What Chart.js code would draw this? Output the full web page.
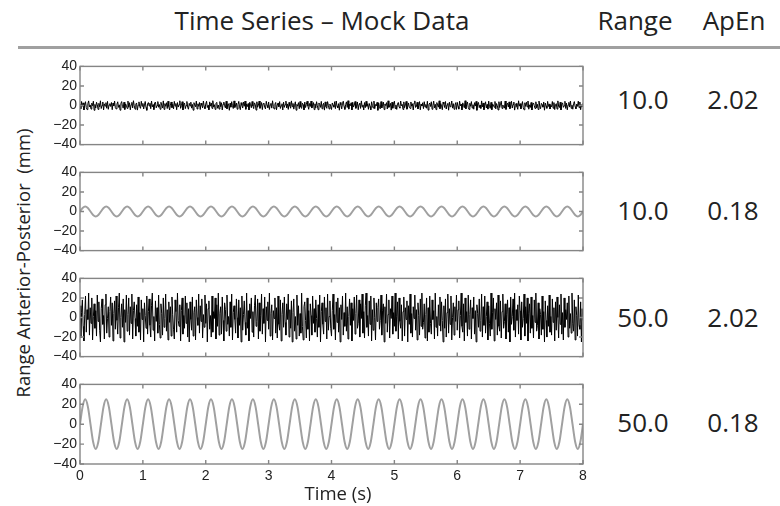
<!DOCTYPE html>
<html>
<head>
<meta charset="utf-8">
<script src="https://cdn.jsdelivr.net/npm/chart.js@4.4.1/dist/chart.umd.min.js"></script>
<style>
  body { margin: 0; width: 780px; height: 506px; background: #fff; position: relative; overflow: hidden; font-family: "Open Sans", sans-serif; color: #222; }
  .txt { position: absolute; font-size: 26px; line-height: 26px; white-space: pre; transform: translateX(-50%); }
  .rule { position: absolute; left: 18px; right: 0; top: 46px; height: 0; border-top: 3px solid #a0a0a0; }
  .ylabel { position: absolute; left: 22px; top: 263px; font-size: 18.5px; white-space: pre; transform: translate(-50%, -50%) rotate(-90deg); }
  .xlabel { position: absolute; left: 338px; top: 484px; font-size: 18.5px; line-height: 18.5px; white-space: pre; transform: translateX(-50%); }
  canvas { position: absolute; left: 0; }
</style>
</head>
<body>
<div class="txt" style="left:322px; top:7px">Time Series – Mock Data</div>
<div class="txt" style="left:635px; top:7px">Range</div>
<div class="txt" style="left:734px; top:7px">ApEn</div>
<div class="rule"></div>
<div class="ylabel">Range Anterior-Posterior  (mm)</div>
<div id="panels"></div>
<div class="xlabel">Time (s)</div>

<script>
// values shown in the right hand columns
const rangeValues = ['10.0', '10.0', '50.0', '50.0']
const apenValues = ['2.02', '0.18', '2.02', '0.18']

// axis ticks
const xTicks = [0, 1, 2, 3, 4, 5, 6, 7, 8]
const yTicks = [-40, -20, 0, 20, 40]

// samples per second for each kind of trace
const noiseRate = 80
const sineRate = 24

// panel 1: small noise (range 10)
const noiseSmall = [
  1.2,-3.4,4.1,-0.8,2.7,-4.6,0.3,3.9,-2.1,-4.2,1.8,4.7,-1.5,0.6,-3.7,2.4,-0.2,4.4,-4.9,1.1,
  -2.6,3.3,0.9,-4.0,2.2,-1.3,4.8,-3.1,0.1,3.6,-4.5,1.7,-0.6,2.9,-2.8,4.2,-3.9,0.5,1.9,-1.0,
  3.1,-4.3,2.5,-0.4,4.6,-2.3,-3.5,1.4,3.8,-1.9,0.7,-4.8,2.0,4.0,-0.9,-2.7,3.4,-4.1,1.6,0.2,
  -3.0,4.5,-1.7,2.8,-4.4,0.8,3.2,-2.5,4.9,-0.3,-3.8,1.3,2.6,-4.7,0.4,3.7,-1.2,-2.9,4.3,-0.7,
  2.1,-3.6,0.6,4.1,-2.0,-4.9,1.5,3.0,-0.5,2.3,-3.3,4.6,-1.4,0.9,-4.2,2.7,3.5,-2.4,-0.1,4.0,
  -1.8,1.0,-3.9,3.3,0.4,-2.6,4.7,-4.0,1.9,-0.8,2.8,-3.1,4.4,-1.1,-4.6,0.3,3.6,-2.2,1.2,-3.5,
  4.2,-0.6,2.0,-4.3,3.0,-1.6,0.8,4.8,-2.9,-0.2,3.9,-4.5,1.4,2.5,-3.2,0.0,4.1,-1.9,-3.8,2.2,
  -0.4,3.4,-2.7,1.1,-4.8,2.9,0.6,-1.3,4.5,-3.6,1.7,-0.9,3.1,-4.1,2.4,0.3,-2.5,4.6,-1.0,-3.3,
  1.5,4.3,-2.1,0.2,-4.4,3.7,-0.7,2.6,-3.0,4.9,-1.5,0.8,-4.0,2.1,3.2,-2.8,0.5,-3.7,4.0,-1.2,
  2.8,-4.6,1.3,3.5,-0.3,-2.4,4.4,-3.4,0.9,1.8,-4.9,2.3,-1.7,3.9,-0.1,-3.1,4.7,-2.0,0.6,2.5,
  -3.8,1.0,4.2,-1.4,-4.3,2.9,0.2,-2.6,3.6,-0.8,4.5,-3.9,1.6,-1.1,2.0,-4.5,3.3,0.7,-2.3,4.1,
  -0.5,-3.2,2.7,1.2,-4.7,3.8,-1.8,0.4,4.6,-2.9,-0.6,3.0,-4.2,1.9,2.4,-1.6,-3.5,4.3,0.1,-2.2,
  3.6,-4.1,0.7,2.2,-2.7,4.8,-0.9,-3.6,1.4,3.1,-4.4,0.5,2.6,-1.3,4.0,-3.0,-0.2,1.8,-4.6,3.4,
  -1.9,0.9,4.5,-2.5,1.6,-4.0,3.2,-0.4,-2.8,4.7,-1.2,2.1,-3.7,0.3,3.8,-4.8,1.1,-0.7,2.9,-3.3,
  4.1,-1.5,-3.0,2.4,0.8,-4.5,3.5,-2.1,1.3,4.4,-0.6,-3.9,2.0,-1.0,4.6,-2.6,0.4,3.0,-4.2,1.7,
  -2.4,3.9,-0.3,-4.3,2.6,1.0,-1.9,4.2,-3.4,0.6,2.3,-4.7,3.7,-1.1,-2.9,4.0,0.2,-3.6,1.5,-0.8,
  -4.1,2.6,0.3,-1.7,3.9,-3.2,4.6,-0.5,-2.4,1.9,-4.8,3.1,0.7,-3.5,2.3,4.4,-1.1,-4.0,0.9,3.7,
  -2.0,4.9,-3.7,1.4,-0.2,2.8,-4.5,3.3,-1.6,0.5,4.1,-2.9,-0.7,3.6,-4.3,1.2,2.5,-3.0,4.7,-1.4,
  0.6,-4.6,3.0,-2.2,4.3,-0.8,1.7,-3.9,2.1,-1.0,-4.4,3.8,0.2,-2.6,4.5,-3.3,1.0,-0.4,3.2,-4.9,
  2.7,-1.3,-3.4,4.0,-2.5,0.8,3.5,-4.2,1.6,-0.1,2.9,-3.6,4.8,-1.9,-0.6,2.2,-4.7,3.4,-2.8,1.3,
  4.4,-3.1,0.4,-4.0,2.0,3.1,-1.5,-2.7,4.6,-0.3,1.1,-4.1,3.7,-2.3,0.6,4.2,-3.8,-0.9,2.6,-1.8,
  -3.0,3.6,-0.7,1.8,-4.6,2.4,4.7,-2.0,-1.2,3.3,-3.5,0.1,4.0,-4.4,1.5,-0.5,2.8,-3.2,3.9,-1.6,
  1.0,-2.8,4.3,-4.7,0.9,2.5,-1.0,3.8,-3.9,-0.2,4.5,-2.4,1.3,-4.2,3.0,0.4,-1.7,4.8,-3.3,2.0,
  -0.6,-4.3,3.5,1.6,-2.1,4.1,-3.6,0.7,2.2,-4.8,3.4,-1.3,-0.1,4.6,-2.7,1.9,-3.9,0.3,2.9,-4.0,
  3.2,-1.1,-3.7,4.4,-0.4,1.5,-4.5,2.7,0.0,-2.3,4.9,-3.4,1.2,3.6,-1.9,-4.1,2.3,-0.8,4.0,-2.6,
  0.8,-3.8,2.9,-0.6,4.2,-4.9,1.8,3.1,-2.2,0.5,-3.0,4.7,-1.4,2.6,-4.4,0.2,3.8,-2.5,1.1,-3.7,
  4.5,-0.9,-2.9,3.2,-4.3,1.4,0.6,-1.8,4.1,-3.5,2.0,-0.3,-4.6,3.9,-2.1,1.7,4.4,-3.1,0.5,-1.2,
  -2.7,4.6,-4.0,0.9,2.4,-1.6,3.7,-3.3,-0.5,4.3,-2.6,1.0,3.5,-4.7,0.3,2.1,-1.3,-3.9,4.8,-0.7,
  1.9,-3.5,0.2,4.0,-2.3,-4.4,2.8,-0.9,3.3,-1.5,4.6,-3.8,0.7,-2.0,3.1,-4.6,1.4,2.6,-0.2,-3.1,
  3.8,-2.4,1.2,-4.1,4.5,-0.6,-3.3,2.2,0.8,-1.7,3.6,-4.8,2.5,-0.4,-2.9,4.2,-1.0,1.6,-3.6,0.1,
  -1.3,4.1,-2.8,3.0,-4.2,0.9,1.9,-3.7,4.7,-0.8,-2.1,3.4,-4.5,1.3,2.7,-1.9,-0.3,4.3,-3.0,2.4,
  -4.4,0.6,3.2,-1.6,4.6,-2.9,0.3,-3.8,2.0,4.0,-1.1,-3.4,1.5,-0.9,4.4,-2.2,3.6,-4.3,0.8,-1.5,
  2.3
]

// panel 2: small sine, 3 Hz (range 10)
const sineSmall = [
  0,3.5,5,3.5,0,-3.5,-5,-3.5, 0,3.5,5,3.5,0,-3.5,-5,-3.5, 0,3.5,5,3.5,0,-3.5,-5,-3.5,
  0,3.5,5,3.5,0,-3.5,-5,-3.5, 0,3.5,5,3.5,0,-3.5,-5,-3.5, 0,3.5,5,3.5,0,-3.5,-5,-3.5,
  0,3.5,5,3.5,0,-3.5,-5,-3.5, 0,3.5,5,3.5,0,-3.5,-5,-3.5, 0,3.5,5,3.5,0,-3.5,-5,-3.5,
  0,3.5,5,3.5,0,-3.5,-5,-3.5, 0,3.5,5,3.5,0,-3.5,-5,-3.5, 0,3.5,5,3.5,0,-3.5,-5,-3.5,
  0,3.5,5,3.5,0,-3.5,-5,-3.5, 0,3.5,5,3.5,0,-3.5,-5,-3.5, 0,3.5,5,3.5,0,-3.5,-5,-3.5,
  0,3.5,5,3.5,0,-3.5,-5,-3.5, 0,3.5,5,3.5,0,-3.5,-5,-3.5, 0,3.5,5,3.5,0,-3.5,-5,-3.5,
  0,3.5,5,3.5,0,-3.5,-5,-3.5, 0,3.5,5,3.5,0,-3.5,-5,-3.5, 0,3.5,5,3.5,0,-3.5,-5,-3.5,
  0,3.5,5,3.5,0,-3.5,-5,-3.5, 0,3.5,5,3.5,0,-3.5,-5,-3.5, 0,3.5,5,3.5,0,-3.5,-5,-3.5,
  0
]

// panel 3: large noise (range 50)
const noiseLarge = [
  12,-21,5,18,-9,-24,3,22,-15,8,-2,25,-18,10,-6,20,-23,1,14,-11,
  7,-19,23,-4,16,-13,-25,9,19,-7,2,-22,13,24,-16,-1,11,-20,6,21,
  -8,15,-24,4,17,-12,22,-3,-17,10,25,-21,0,14,-10,19,-25,8,-5,23,
  -14,3,20,-18,11,-6,24,-22,7,16,-1,-19,13,-9,21,-15,5,-23,18,-2,
  9,-25,15,2,-11,22,-17,6,19,-8,-20,12,25,-13,1,-24,17,-4,10,-16,
  23,-7,-21,14,4,-18,20,-10,-1,24,-14,8,-23,16,-5,11,-19,21,3,-12,
  -22,18,6,-15,25,-3,-9,13,-24,7,20,-17,2,-11,22,-6,15,-20,9,-25,
  16,-2,-13,21,-19,5,11,-23,18,0,-8,24,-16,12,-4,19,-21,3,-10,23,
  -6,14,-25,9,17,-12,2,-20,22,-15,6,-1,20,-22,13,-9,25,-18,4,11,
  -17,21,-3,-24,15,8,-14,23,-7,1,-19,16,-10,24,-23,5,12,-2,-16,19,
  0,-21,18,-8,10,-25,22,-13,3,17,-5,-18,25,-11,7,-24,14,-1,20,-15,
  6,-20,12,23,-9,-4,19,-22,15,-14,2,24,-17,9,-6,21,-25,11,-3,16,
  -12,25,-19,4,13,-23,7,-1,20,-16,10,-21,22,-7,-13,18,-24,3,15,-10,
  21,-5,-18,14,-2,24,-20,8,-11,17,-25,5,19,-14,1,-22,23,-8,12,-19,
  4,-16,25,-9,-23,11,16,-3,-21,20,-12,7,-24,14,2,-18,22,-6,9,-15,
  18,-1,-20,13,-10,23,-25,6,15,-7,-17,21,-4,10,-22,24,-13,1,17,-11,
  -19,7,24,-12,3,-23,16,-5,20,-15,10,-25,13,-2,22,-18,5,-9,25,-14,
  11,-22,1,19,-8,15,-24,9,-3,21,-17,4,23,-11,-6,18,-20,14,-1,24,
  -16,6,-21,12,25,-10,2,-19,17,-7,22,-24,8,-13,20,0,-23,15,-4,10,
  19,-12,-3,23,-18,7,14,-25,11,-6,24,-15,3,18,-21,9,-1,22,-17,5,
  -9,25,-14,1,16,-22,20,-4,-11,13,-24,6,21,-19,10,-2,17,-25,12,-7,
  24,-16,4,-20,11,-1,23,-13,8,-23,15,2,-18,19,-9,25,-12,-5,14,-21,
  3,20,-24,10,-15,22,-6,-17,18,-2,7,-22,25,-10,1,-19,13,-8,21,-14,
  16,-3,-25,12,-11,19,-20,5,24,-16,9,-7,22,-23,0,15,-18,11,-4,23,
  -13,8,17,-21,2,25,-9,-15,14,-24,20,-5,6,-19,23,-12,3,18,-22,10,
  -1,21,-17,7,-25,13,4,-10,19,-14,-3,24,-20,11,-8,22,-16,1,16,-23,
  12,-6,-19,25,-12,5,20,-24,9,-2,15,-18,23,-9,-14,17,-21,6,24,-11,
  -4,14,-22,3,18,-15,10,-25,21,-7,1,19,-13,25,-20,8,-3,13,-17,22,
  7,-23,16,-10,-1,24,-19,11,-6,20,-24,4,14,-16,21,-11,2,-21,18,-5,
  25,-14,-8,15,-22,9,3,-18,22,-12,6,-25,17,-3,-20,12,-9,23,-15,1,
  -18,19,-5,10,-24,16,-13,21,0,-21,13,-7,24,-17,5,-23,20,-10,8,-2,
  15,-20,22,-11,4,-16,25,-6,-14,18,-23,11,2,-19,23,-8,-12,16,-25,9,
  -3
]

// panel 4: large sine, 3 Hz (range 50)
const sineLarge = [
  0,17.7,25,17.7,0,-17.7,-25,-17.7, 0,17.7,25,17.7,0,-17.7,-25,-17.7, 0,17.7,25,17.7,0,-17.7,-25,-17.7,
  0,17.7,25,17.7,0,-17.7,-25,-17.7, 0,17.7,25,17.7,0,-17.7,-25,-17.7, 0,17.7,25,17.7,0,-17.7,-25,-17.7,
  0,17.7,25,17.7,0,-17.7,-25,-17.7, 0,17.7,25,17.7,0,-17.7,-25,-17.7, 0,17.7,25,17.7,0,-17.7,-25,-17.7,
  0,17.7,25,17.7,0,-17.7,-25,-17.7, 0,17.7,25,17.7,0,-17.7,-25,-17.7, 0,17.7,25,17.7,0,-17.7,-25,-17.7,
  0,17.7,25,17.7,0,-17.7,-25,-17.7, 0,17.7,25,17.7,0,-17.7,-25,-17.7, 0,17.7,25,17.7,0,-17.7,-25,-17.7,
  0,17.7,25,17.7,0,-17.7,-25,-17.7, 0,17.7,25,17.7,0,-17.7,-25,-17.7, 0,17.7,25,17.7,0,-17.7,-25,-17.7,
  0,17.7,25,17.7,0,-17.7,-25,-17.7, 0,17.7,25,17.7,0,-17.7,-25,-17.7, 0,17.7,25,17.7,0,-17.7,-25,-17.7,
  0,17.7,25,17.7,0,-17.7,-25,-17.7, 0,17.7,25,17.7,0,-17.7,-25,-17.7, 0,17.7,25,17.7,0,-17.7,-25,-17.7,
  0
]


// box with ticks pointing inwards on every side, like the original plot
const frameTicks = {
    id: 'frameTicks',
    afterDatasetsDraw(chart) {
        const { ctx, chartArea: a, scales: { x, y } } = chart
        ctx.save()
        ctx.strokeStyle = '#858585'
        ctx.lineWidth = 1.4
        ctx.strokeRect(a.left, a.top, a.right - a.left, a.bottom - a.top)
        ctx.beginPath()
        xTicks.forEach(t => {
            const px = x.getPixelForValue(t)
            ctx.moveTo(px, a.top); ctx.lineTo(px, a.top + 4)
            ctx.moveTo(px, a.bottom); ctx.lineTo(px, a.bottom - 4)
        })
        yTicks.forEach(v => {
            const py = y.getPixelForValue(v)
            ctx.moveTo(a.left, py); ctx.lineTo(a.left + 4, py)
            ctx.moveTo(a.right, py); ctx.lineTo(a.right - 4, py)
        })
        ctx.stroke()
        ctx.restore()
    }
}

printPanels()

function printPanels() {
    // top of each plot box in the page and the vertical centre of its numbers
    const panelTops = [65, 171, 277, 383]
    const textCentres = [100, 211, 318, 423]

    const series = [
        { values: noiseSmall, rate: noiseRate, color: '#000', width: 1, smooth: false },
        { values: sineSmall, rate: sineRate, color: '#a0a0a0', width: 2, smooth: true },
        { values: noiseLarge, rate: noiseRate, color: '#000', width: 1, smooth: false },
        { values: sineLarge, rate: sineRate, color: '#a0a0a0', width: 2, smooth: true }
    ]

    series.forEach((s, i) => {
        const last = i === series.length - 1
        modelPanel(s, panelTops[i], last)
        addValueText(rangeValues[i], 643, textCentres[i])
        addValueText(apenValues[i], 733, textCentres[i])
    })
}


function addValueText(text, cx, cy) {
    const div = document.createElement('div')
    div.className = 'txt'
    div.textContent = text
    div.style.left = cx + 'px'
    div.style.top = (cy - 14) + 'px'
    document.body.appendChild(div)
}


function modelPanel(s, top, showTime) {
    const plotHeight = 81
    const bottomSpace = showTime ? 42 : 0
    const canvas = document.createElement('canvas')
    canvas.width = 600
    canvas.height = 10 + plotHeight + (showTime ? bottomSpace : 10)
    canvas.style.top = (top - 10) + 'px'
    document.getElementById('panels').appendChild(canvas)

    const tickFont = { family: '"Liberation Sans", Arial, sans-serif', size: 14 }

    const data = {
        datasets: [
            {
                data: s.values.map((v, i) => ({ x: i / s.rate, y: v })),
                borderColor: s.color,
                borderWidth: s.width,
                pointRadius: 0,
                cubicInterpolationMode: s.smooth ? 'monotone' : 'default',
                tension: 0
            }
        ]
    }

    const options = {
        responsive: false,
        animation: false,
        events: [],
        layout: { padding: { top: 10, right: 17, bottom: showTime ? 0 : 10, left: 0 } },
        plugins: { legend: { display: false }, tooltip: { enabled: false } },
        scales: {
            x: {
                type: 'linear',
                min: 0,
                max: 8,
                afterBuildTicks: scale => { scale.ticks = xTicks.map(v => ({ value: v })) },
                afterFit: scale => { scale.height = bottomSpace },
                grid: { display: false, drawTicks: false },
                border: { display: false },
                ticks: { display: showTime, padding: 4, color: '#222', font: tickFont }
            },
            y: {
                min: -40,
                max: 40,
                afterBuildTicks: scale => { scale.ticks = yTicks.map(v => ({ value: v })) },
                afterFit: scale => { scale.width = 80 },
                grid: { display: false, drawTicks: false },
                border: { display: false },
                ticks: {
                    padding: 3,
                    color: '#222',
                    font: tickFont,
                    callback: v => v < 0 ? '\u2212' + Math.abs(v) : String(v)
                }
            }
        }
    }

    new Chart(canvas, { type: 'line', data, options, plugins: [frameTicks] })
}
</script>
</body>
</html>
